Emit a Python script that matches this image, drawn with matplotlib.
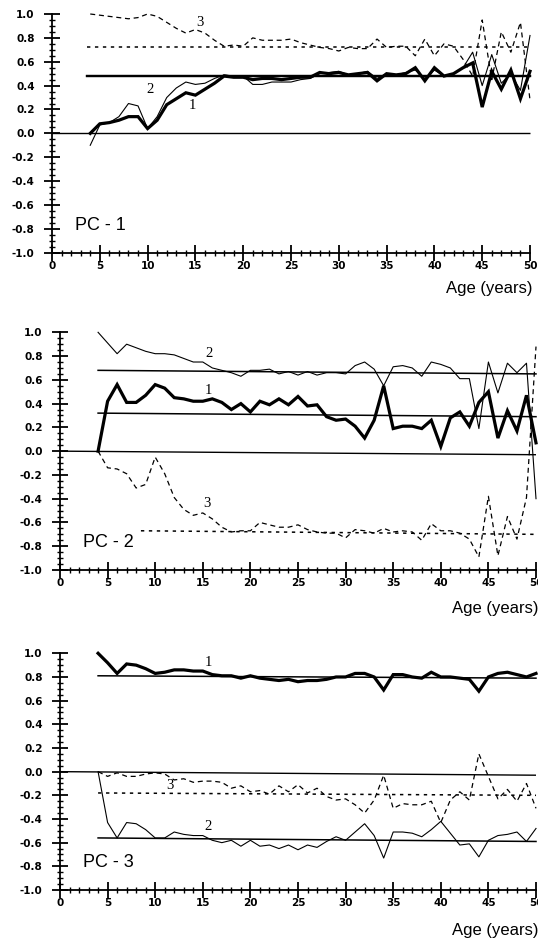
import matplotlib
matplotlib.use("Agg")
import matplotlib.pyplot as plt
from matplotlib.ticker import MultipleLocator, FixedLocator, FixedFormatter

# ---------------- data ----------------
ages = list(range(4, 51))

p1_s1 = [0.00, 0.08, 0.09, 0.11, 0.14, 0.14, 0.04, 0.11, 0.24, 0.29, 0.34, 0.32, 0.37, 0.42, 0.48, 0.47,
         0.47, 0.45, 0.46, 0.46, 0.45, 0.46, 0.47, 0.47, 0.51, 0.50, 0.51, 0.49, 0.50, 0.51, 0.44, 0.50,
         0.49, 0.50, 0.55, 0.44, 0.55, 0.48, 0.50, 0.55, 0.59, 0.22, 0.52, 0.37, 0.53, 0.29, 0.52]
p1_s2 = [-0.10, 0.07, 0.09, 0.14, 0.25, 0.23, 0.04, 0.14, 0.30, 0.38, 0.43, 0.41, 0.42, 0.46, 0.49, 0.48,
         0.48, 0.41, 0.41, 0.43, 0.43, 0.43, 0.45, 0.46, 0.50, 0.51, 0.52, 0.49, 0.50, 0.52, 0.46, 0.50,
         0.49, 0.51, 0.53, 0.46, 0.53, 0.48, 0.50, 0.55, 0.68, 0.40, 0.66, 0.42, 0.50, 0.36, 0.82]
p1_s3 = [1.00, 0.99, 0.98, 0.97, 0.96, 0.97, 1.00, 0.98, 0.93, 0.88, 0.84, 0.87, 0.84, 0.78, 0.73, 0.74,
         0.73, 0.80, 0.78, 0.78, 0.78, 0.79, 0.76, 0.74, 0.72, 0.71, 0.69, 0.72, 0.71, 0.71, 0.79, 0.72,
         0.73, 0.73, 0.65, 0.79, 0.65, 0.75, 0.73, 0.62, 0.48, 0.95, 0.45, 0.85, 0.68, 0.93, 0.28]

p2_s1 = [0.00, 0.42, 0.56, 0.41, 0.41, 0.47, 0.56, 0.53, 0.45, 0.44, 0.42, 0.42, 0.44, 0.41, 0.35, 0.40,
         0.33, 0.42, 0.39, 0.44, 0.39, 0.46, 0.38, 0.39, 0.29, 0.26, 0.27, 0.21, 0.11, 0.26, 0.55, 0.19,
         0.21, 0.21, 0.19, 0.26, 0.04, 0.28, 0.33, 0.21, 0.41, 0.50, 0.11, 0.34, 0.17, 0.47, 0.07]
p2_s2 = [1.00, 0.91, 0.82, 0.90, 0.87, 0.84, 0.82, 0.82, 0.81, 0.78, 0.75, 0.75, 0.70, 0.68, 0.66, 0.63,
         0.68, 0.68, 0.69, 0.65, 0.67, 0.64, 0.67, 0.64, 0.66, 0.66, 0.65, 0.72, 0.75, 0.69, 0.55, 0.71,
         0.72, 0.70, 0.63, 0.75, 0.73, 0.70, 0.61, 0.61, 0.19, 0.75, 0.49, 0.74, 0.66, 0.74, -0.40]
p2_s3 = [0.00, -0.14, -0.15, -0.19, -0.31, -0.28, -0.05, -0.19, -0.39, -0.49, -0.54, -0.52, -0.57, -0.64,
         -0.68, -0.67, -0.67, -0.60, -0.62, -0.64, -0.64, -0.62, -0.66, -0.68, -0.69, -0.69, -0.73, -0.66,
         -0.67, -0.69, -0.65, -0.68, -0.67, -0.68, -0.75, -0.61, -0.67, -0.67, -0.69, -0.74, -0.89, -0.38,
         -0.88, -0.55, -0.74, -0.39, 0.88]

p3_s1 = [1.00, 0.92, 0.83, 0.91, 0.90, 0.87, 0.83, 0.84, 0.86, 0.86, 0.85, 0.85, 0.82, 0.81, 0.81, 0.79,
         0.81, 0.79, 0.78, 0.77, 0.78, 0.76, 0.77, 0.77, 0.78, 0.80, 0.80, 0.83, 0.83, 0.80, 0.69, 0.82,
         0.82, 0.80, 0.79, 0.84, 0.80, 0.80, 0.79, 0.78, 0.68, 0.80, 0.83, 0.84, 0.82, 0.80, 0.83]
p3_s2 = [0.00, -0.43, -0.56, -0.43, -0.44, -0.49, -0.56, -0.56, -0.51, -0.53, -0.54, -0.54, -0.58, -0.60,
         -0.58, -0.63, -0.58, -0.63, -0.62, -0.65, -0.62, -0.66, -0.62, -0.64, -0.59, -0.55, -0.58, -0.51,
         -0.44, -0.54, -0.73, -0.51, -0.51, -0.52, -0.55, -0.49, -0.42, -0.52, -0.62, -0.61, -0.72, -0.58,
         -0.54, -0.53, -0.51, -0.59, -0.48]
p3_s3 = [0.00, -0.04, -0.01, -0.04, -0.04, -0.02, -0.01, -0.02, -0.07, -0.06, -0.09, -0.08, -0.08, -0.09,
         -0.14, -0.12, -0.17, -0.16, -0.19, -0.12, -0.17, -0.11, -0.18, -0.14, -0.21, -0.24, -0.23, -0.28,
         -0.35, -0.24, -0.03, -0.31, -0.27, -0.28, -0.28, -0.25, -0.43, -0.24, -0.17, -0.24, 0.15, -0.04,
         -0.23, -0.15, -0.25, -0.10, -0.31]

# mean lines: (x_start, x_end, y_start, y_end) per series 1,2,3
p1_means = [(3.7, 50, 0.48, 0.48), (3.7, 50, 0.48, 0.48), (3.7, 50, 0.725, 0.725)]
p2_means = [(4.0, 50, 0.32, 0.29), (4.0, 50, 0.68, 0.65), (8.5, 50, -0.67, -0.70)]
p3_means = [(4.0, 50, 0.81, 0.79), (4.0, 50, -0.56, -0.59), (4.0, 50, -0.18, -0.20)]
zero_ends = [0.0, -0.03, -0.03]

panel_titles = ["PC - 1", "PC - 2", "PC - 3"]
xlabel_text = "Age (years)"
ytick_vals = [1.0, 0.8, 0.6, 0.4, 0.2, 0.0, -0.2, -0.4, -0.6, -0.8, -1.0]
ytick_labels = ["1.0", "0.8", "0.6", "0.4", "0.2", "0.0", "-0.2", "-0.4", "-0.6", "-0.8", "-1.0"]
xtick_vals = [0, 5, 10, 15, 20, 25, 30, 35, 40, 45, 50]
xtick_labels = ["0", "5", "10", "15", "20", "25", "30", "35", "40", "45", "50"]

# series label positions (text, x, y)
p1_labels = [("3", 15.5, 0.93), ("2", 10.3, 0.37), ("1", 14.7, 0.23)]
p2_labels = [("2", 15.6, 0.82), ("1", 15.6, 0.51), ("3", 15.4, -0.44)]
p3_labels = [("1", 15.6, 0.92), ("3", 11.5, -0.12), ("2", 15.5, -0.46)]

# ---------------- figure ----------------
W, H = 538, 942
fig = plt.figure(figsize=(W / 100, H / 100), dpi=100)
fig.patch.set_facecolor("white")

# axes boxes in pixels: (x0, x50, ytop(1.0), ybottom(-1.0))
boxes = [(52, 530, 14, 252.7), (60, 536, 332.3, 570), (60, 536, 653.3, 890)]
age_label_right = [533, 538, 538]
age_label_y = [289, 608, 930]

panels = [
    (p1_s1, p1_s2, p1_s3, p1_means, p1_labels),
    (p2_s1, p2_s2, p2_s3, p2_means, p2_labels),
    (p3_s1, p3_s2, p3_s3, p3_means, p3_labels),
]

thick_lw = 2.3
thin_lw = 0.8
dash_style = (0, (4, 3))
mean_dot = (0, (2.2, 3.0))

for i, (s1, s2, s3, means, labels) in enumerate(panels):
    x0, x50, yt, yb = boxes[i]
    ax = fig.add_axes([x0 / W, (H - yb) / H, (x50 - x0) / W, (yb - yt) / H])
    ax.set_xlim(0, 50)
    ax.set_ylim(-1.0, 1.0)
    for side in ("top", "right"):
        ax.spines[side].set_visible(False)
    for side in ("left", "bottom"):
        ax.spines[side].set_linewidth(1.3)
        ax.spines[side].set_color("black")

    # zero line
    ax.plot([0, 50], [0.0, zero_ends[i]], color="black", lw=1.0, solid_capstyle="butt", clip_on=False)

    # mean lines
    m1, m2, m3 = means
    mean_lw_solid = 1.6 if i == 0 else 1.1
    ax.plot([m1[0], m1[1]], [m1[2], m1[3]], color="black", lw=mean_lw_solid, clip_on=False)
    ax.plot([m2[0], m2[1]], [m2[2], m2[3]], color="black", lw=mean_lw_solid, clip_on=False)
    ax.plot([m3[0], m3[1]], [m3[2], m3[3]], color="black", lw=1.1, linestyle=mean_dot, clip_on=False)

    # series
    ax.plot(ages, s3, color="black", lw=0.9, linestyle=dash_style, clip_on=False)
    ax.plot(ages, s2, color="black", lw=thin_lw, clip_on=False)
    ax.plot(ages, s1, color="black", lw=thick_lw, clip_on=False, solid_joinstyle="miter")

    for (t, lx, ly) in labels:
        ax.text(lx, ly, t, fontsize=10.5, family="Liberation Serif", ha="center", va="center")

    ax.text(2.4, -0.77, panel_titles[i], fontsize=13, family="Liberation Sans", ha="left", va="center")

    # ticks
    ax.xaxis.set_major_locator(FixedLocator(xtick_vals))
    ax.xaxis.set_major_formatter(FixedFormatter(xtick_labels))
    ax.xaxis.set_minor_locator(MultipleLocator(1))
    ax.yaxis.set_major_locator(FixedLocator(ytick_vals))
    ax.yaxis.set_major_formatter(FixedFormatter(ytick_labels))
    ax.yaxis.set_minor_locator(MultipleLocator(0.05))
    ax.tick_params(axis="both", which="major", direction="inout", length=11, width=1.3, color="black")
    ax.tick_params(axis="both", which="minor", direction="inout", length=5, width=1.0, color="black")
    ax.tick_params(axis="y", which="major", pad=7.0)
    ax.tick_params(axis="x", which="major", pad=0.5)
    for lab in ax.get_xticklabels() + ax.get_yticklabels():
        lab.set_fontsize(7.5)
        lab.set_fontweight("heavy")
        lab.set_family("DejaVu Sans")

    fig.text(age_label_right[i] / W, (H - age_label_y[i]) / H, xlabel_text, fontsize=12,
             family="Liberation Sans", ha="right", va="center")

fig.savefig("out.png", dpi=100, facecolor="white")
